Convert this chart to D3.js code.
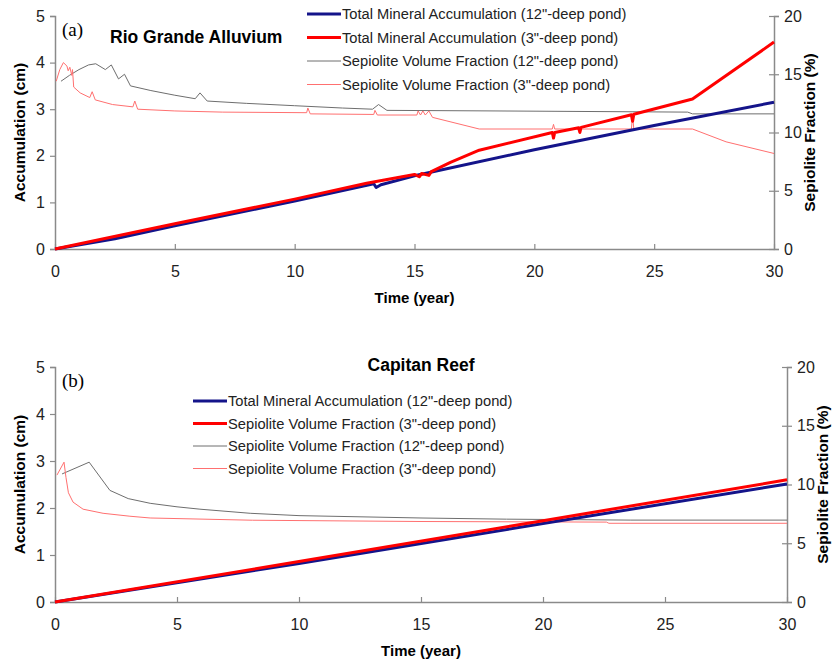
<!DOCTYPE html>
<html>
<head>
<meta charset="utf-8">
<script src="https://cdn.jsdelivr.net/npm/d3@7"></script>
<style>
  body { margin: 0; background: #fff; }
  svg { font-family: "Liberation Sans", Arial, sans-serif; }
</style>
</head>
<body>
<div id="chart"></div>
<script>
// ---- data ----
var yearTicks = [0, 5, 10, 15, 20, 25, 30];
var accTicks = [0, 1, 2, 3, 4, 5];
var fracTicks = [0, 5, 10, 15, 20];

// (a) Rio Grande Alluvium: [year, cm] for accumulation, [year, %] for sepiolite
var rioAcc12 = [[0, 0], [2.5, 0.22], [5, 0.5], [10, 1.03], [13.3, 1.4], [13.4, 1.32], [13.6, 1.38], [15, 1.57], [20, 2.13], [25, 2.65], [30, 3.15]];
var rioAcc3 = [[0, 0], [5, 0.54], [10, 1.07], [13, 1.41], [15, 1.6], [15.2, 1.55], [15.3, 1.62], [15.6, 1.58], [15.7, 1.66],
  [16.5, 1.86], [17.7, 2.12], [20.75, 2.5], [20.8, 2.38], [20.85, 2.5], [21.85, 2.6], [21.9, 2.5], [21.95, 2.61],
  [24.05, 2.88], [24.1, 2.74], [24.15, 2.89], [26.6, 3.22], [30, 4.44]];
var rioSep12 = [[0.25, 14.4], [0.6, 14.9], [1.0, 15.4], [1.4, 15.8], [1.7, 15.9], [2.1, 15.4], [2.35, 15.8], [2.65, 14.6],
  [2.9, 15.0], [3.15, 14.0], [4, 13.6], [5, 13.2], [5.85, 12.9], [6.05, 13.4], [6.35, 12.7], [8, 12.5], [10, 12.3],
  [12, 12.1], [13.25, 12.0], [13.5, 12.4], [13.85, 11.9], [18.4, 11.85], [26.4, 11.75], [26.6, 11.6], [30, 11.6]];
var rioSep3 = [[0.05, 14.4], [0.2, 15.4], [0.35, 16.0], [0.5, 15.7], [0.55, 15.3], [0.62, 15.6], [0.7, 14.9], [0.73, 15.4],
  [0.78, 13.9], [1.05, 13.4], [1.45, 13.0], [1.55, 13.5], [1.68, 12.8], [2.4, 12.4], [3.25, 12.2], [3.33, 12.7],
  [3.45, 12.0], [5, 11.85], [7, 11.75], [10.5, 11.7], [10.55, 12.1], [10.65, 11.6], [13.3, 11.55], [13.35, 11.9],
  [13.45, 11.5], [15.1, 11.5], [15.15, 11.85], [15.25, 11.5], [15.35, 11.85], [15.45, 11.5], [15.6, 11.85],
  [15.75, 11.3], [17.7, 10.3], [20.75, 10.3], [20.8, 10.7], [20.85, 10.3], [24.05, 10.3], [24.1, 11.5], [24.15, 10.3],
  [26.6, 10.3], [28, 9.2], [30, 8.2]];

// (b) Capitan Reef
var capAcc12 = [[0, 0], [10, 0.82], [20, 1.67], [30, 2.51]];
var capAcc3 = [[0, 0], [10, 0.86], [20, 1.73], [30, 2.6]];
var capSep12 = [[0.29, 10.9], [1.4, 11.9], [2.25, 9.5], [3.0, 8.8], [3.9, 8.4], [5, 8.1], [5.94, 7.9], [8, 7.55],
  [10, 7.35], [15, 7.15], [18.5, 7.05], [23.6, 6.97], [30, 6.97]];
var capSep3 = [[0.08, 10.8], [0.37, 11.9], [0.45, 10.6], [0.55, 9.3], [0.74, 8.5], [1.15, 7.9], [1.97, 7.55],
  [3.07, 7.3], [3.9, 7.15], [8.1, 6.96], [15, 6.85], [22.6, 6.8], [22.7, 6.7], [30, 6.7]];

var rioLegend = ["Total Mineral Accumulation (12\"-deep pond)", "Total Mineral Accumulation (3\"-deep pond)",
  "Sepiolite Volume Fraction (12\"-deep pond)", "Sepiolite Volume Fraction (3\"-deep pond)"];
var capLegend = ["Total Mineral Accumulation (12\"-deep pond)", "Sepiolite Volume Fraction (3\"-deep pond)",
  "Sepiolite Volume Fraction (12\"-deep pond)", "Sepiolite Volume Fraction (3\"-deep pond)"];

var styles = [
  { color: "#14148a", width: 3 },
  { color: "#ff0000", width: 3 },
  { color: "#6e6e6e", width: 1 },
  { color: "#ff7070", width: 1 }
];
var axisColor = "#8a8a8a";

var svg = d3.select("#chart").append("svg").attr("width", 837).attr("height", 663);

function drawPanel(p) {
  var x = d3.scaleLinear().domain([0, 30]).range([p.left, p.right]);
  var yL = d3.scaleLinear().domain([0, 5]).range([p.bottom, p.top]);
  var yR = d3.scaleLinear().domain([0, 20]).range([p.bottom, p.top]);
  var g = svg.append("g");

  // axes
  var xAxis = g.append("g").attr("transform", "translate(0," + p.bottom + ")")
    .call(d3.axisBottom(x).tickValues(yearTicks).tickFormat(d3.format("d"))
      .tickSizeInner(-5).tickSizeOuter(0).tickPadding(17));
  var lAxis = g.append("g").attr("transform", "translate(" + p.left + ",0)")
    .call(d3.axisLeft(yL).tickValues(accTicks).tickFormat(d3.format("d")).tickSizeOuter(0).tickSize(5).tickPadding(5));
  var rAxis = g.append("g").attr("transform", "translate(" + p.right + ",0)")
    .call(d3.axisRight(yR).tickValues(fracTicks).tickFormat(d3.format("d")).tickSizeOuter(0).tickSize(5).tickPadding(5));
  rAxis.selectAll(".tick line").attr("x1", -5);
  [xAxis, lAxis, rAxis].forEach(function (a) {
    a.select(".domain").attr("stroke", axisColor).attr("stroke-width", 1.5);
    a.selectAll(".tick line").attr("stroke", axisColor).attr("stroke-width", 1.2);
    a.selectAll(".tick text").attr("fill", "#222").style("font-size", "16px")
      .style("font-family", "'Liberation Sans', Arial, sans-serif");
  });

  // lines
  var lineL = d3.line().x(function (d) { return x(d[0]); }).y(function (d) { return yL(d[1]); });
  var lineR = d3.line().x(function (d) { return x(d[0]); }).y(function (d) { return yR(d[1]); });
  [[p.sep12, lineR, 2], [p.sep3, lineR, 3], [p.acc12, lineL, 0], [p.acc3, lineL, 1]].forEach(function (s) {
    g.append("path").datum(s[0]).attr("d", s[1]).attr("fill", "none")
      .attr("stroke", styles[s[2]].color).attr("stroke-width", styles[s[2]].width)
      .attr("stroke-linejoin", "round");
  });

  // legend
  p.legend.forEach(function (label, i) {
    var ly = p.legY + i * p.legStep;
    g.append("line").attr("x1", p.legX).attr("x2", p.legX + 34).attr("y1", ly).attr("y2", ly)
      .attr("stroke", styles[i].color).attr("stroke-width", styles[i].width);
    g.append("text").attr("x", p.legX + 35).attr("y", ly + 5).text(label)
      .style("font-size", "14.7px").attr("fill", "#222");
  });

  // titles
  g.append("text").attr("x", p.left + 7).attr("y", p.top + 20).text(p.tag)
    .style("font-family", "'Liberation Serif', 'Times New Roman', serif").style("font-size", "19px");
  g.append("text").attr("x", p.titleX).attr("y", p.titleY).attr("text-anchor", p.titleAnchor).text(p.title)
    .style("font-weight", "bold").style("font-size", "17.5px");
  g.append("text").attr("x", (p.left + p.right) / 2).attr("y", p.bottom + 54).attr("text-anchor", "middle")
    .text("Time (year)").style("font-weight", "bold").style("font-size", "15px");
  g.append("text").attr("transform", "translate(25," + (p.top + p.bottom) / 2 + ") rotate(-90)")
    .attr("text-anchor", "middle").text("Accumulation (cm)").style("font-weight", "bold").style("font-size", "15.5px");
  g.append("text").attr("transform", "translate(" + (p.right + 41) + "," + (p.top + p.bottom) / 2 + ") rotate(-90)")
    .attr("text-anchor", "middle").text("Sepiolite Fraction (%)").style("font-weight", "bold").style("font-size", "15.5px");
}

drawPanel({
  left: 55, right: 774, top: 16, bottom: 249,
  acc12: rioAcc12, acc3: rioAcc3, sep12: rioSep12, sep3: rioSep3,
  legend: rioLegend, legX: 307, legY: 14, legStep: 23.5,
  tag: "(a)", title: "Rio Grande Alluvium", titleX: 110, titleY: 43, titleAnchor: "start"
});
drawPanel({
  left: 55, right: 787, top: 367, bottom: 602,
  acc12: capAcc12, acc3: capAcc3, sep12: capSep12, sep3: capSep3,
  legend: capLegend, legX: 193, legY: 401, legStep: 22.5,
  tag: "(b)", title: "Capitan Reef", titleX: 421, titleY: 371, titleAnchor: "middle"
});
</script>
</body>
</html>
